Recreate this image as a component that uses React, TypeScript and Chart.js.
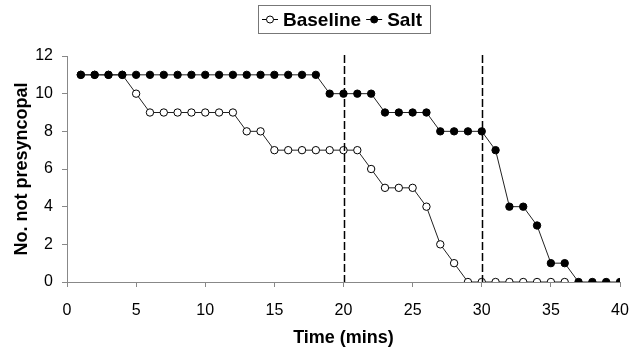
import React, { useEffect, useRef } from 'react';
import { Chart, registerables } from 'chart.js';

Chart.register(...registerables);

const baselineTimes = [1, 2, 3, 4, 5, 6, 7, 8, 9, 10, 11, 12, 13, 14, 15, 16, 17, 18, 19, 20, 21, 22, 23, 24, 25, 26, 27, 28, 29, 30, 31, 32, 33, 34, 35, 36];
const baselineValues = [11, 11, 11, 11, 10, 9, 9, 9, 9, 9, 9, 9, 8, 8, 7, 7, 7, 7, 7, 7, 7, 6, 5, 5, 5, 4, 2, 1, 0, 0, 0, 0, 0, 0, 0, 0];
const saltTimes = [1, 2, 3, 4, 5, 6, 7, 8, 9, 10, 11, 12, 13, 14, 15, 16, 17, 18, 19, 20, 21, 22, 23, 24, 25, 26, 27, 28, 29, 30, 31, 32, 33, 34, 35, 36, 37, 38, 39, 40];
const saltValues = [11, 11, 11, 11, 11, 11, 11, 11, 11, 11, 11, 11, 11, 11, 11, 11, 11, 11, 10, 10, 10, 10, 9, 9, 9, 9, 8, 8, 8, 8, 7, 4, 4, 3, 1, 1, 0, 0, 0, 0];
const markerTimes = [20, 30];
const seriesNames = ['Baseline', 'Salt'];
const xTitle = 'Time (mins)';
const yTitle = 'No. not presyncopal';

const FONT = '"Liberation Sans", Arial, Helvetica, sans-serif';

const vLinesPlugin = {
  id: 'vLines',
  afterDatasetsDraw(chart: any) {
    const { ctx, chartArea, scales } = chart;
    ctx.save();
    ctx.strokeStyle = '#000';
    ctx.lineWidth = 1.5;
    ctx.setLineDash([8, 3]);
    markerTimes.forEach((t) => {
      const x = Math.round(scales.x.getPixelForValue(t)) + 0.5;
      ctx.beginPath();
      ctx.moveTo(x, chartArea.top - 1);
      ctx.lineTo(x, chartArea.bottom);
      ctx.stroke();
    });
    ctx.restore();
  },
};

const legendPlugin = {
  id: 'customLegend',
  afterDraw(chart: any) {
    const { ctx } = chart;
    ctx.save();
    const fontSize = 19;
    ctx.font = `bold ${fontSize}px ${FONT}`;
    const markerW = 16;
    const gap = 5;
    const itemGap = 5;
    const widths = seriesNames.map((n) => ctx.measureText(n).width);
    const padL = 4;
    const padR = 8;
    const total = padL + padR + widths.reduce((a, w) => a + markerW + gap + w, 0) + itemGap;
    const boxTop = 5;
    const boxH = 28;
    let x = 258;
    ctx.strokeStyle = '#777';
    ctx.lineWidth = 1;
    ctx.strokeRect(x + 0.5, boxTop + 0.5, Math.round(total), boxH);
    const y = boxTop + boxH / 2 + 0.5;
    x += padL;
    seriesNames.forEach((name, i) => {
      ctx.strokeStyle = '#000';
      ctx.lineWidth = 1;
      ctx.beginPath();
      ctx.moveTo(x, y);
      ctx.lineTo(x + markerW, y);
      ctx.stroke();
      ctx.beginPath();
      ctx.arc(x + markerW / 2, y, 3.5, 0, Math.PI * 2);
      ctx.fillStyle = i === 0 ? '#fff' : '#000';
      ctx.fill();
      ctx.stroke();
      x += markerW + gap;
      ctx.fillStyle = '#000';
      ctx.textBaseline = 'middle';
      ctx.textAlign = 'left';
      ctx.fillText(name, x, y + 1);
      x += widths[i] + itemGap;
    });
    ctx.restore();
  },
};

export default function App() {
  const canvasRef = useRef<HTMLCanvasElement | null>(null);

  useEffect(() => {
    const canvas = canvasRef.current;
    if (!canvas) return;
    const chart = new Chart(canvas, {
      type: 'scatter',
      data: {
        datasets: [
          {
            label: seriesNames[0],
            data: baselineTimes.map((t, i) => ({ x: t, y: baselineValues[i] })),
            showLine: true,
            borderColor: '#222',
            borderWidth: 1,
            pointRadius: 3.7,
            pointBackgroundColor: '#fff',
            pointBorderColor: '#000',
            pointBorderWidth: 1,
            order: 1,
          },
          {
            label: seriesNames[1],
            data: saltTimes.map((t, i) => ({ x: t, y: saltValues[i] })),
            showLine: true,
            borderColor: '#222',
            borderWidth: 1,
            pointRadius: 3.7,
            pointBackgroundColor: '#000',
            pointBorderColor: '#000',
            pointBorderWidth: 1,
            order: 0,
          },
        ],
      },
      options: {
        animation: false,
        responsive: false,
        devicePixelRatio: 1,
        layout: { padding: { top: 56, right: 11, left: 0, bottom: 0 } },
        plugins: {
          legend: { display: false },
          tooltip: { enabled: false },
        },
        scales: {
          x: {
            type: 'linear',
            min: 0,
            max: 40,
            afterFit: (s: any) => {
              s.height = 71;
              s.paddingRight = 0;
              s.paddingLeft = 0;
            },
            ticks: {
              stepSize: 5,
              color: '#000',
              padding: 14,
              font: { family: FONT, size: 16 },
            },
            grid: {
              display: true,
              drawOnChartArea: false,
              drawTicks: true,
              tickLength: 5,
              color: '#888',
            },
            border: { display: true, color: '#888', width: 1 },
            title: {
              display: true,
              text: xTitle,
              color: '#000',
              font: { family: FONT, size: 18, weight: 'bold' },
              padding: { top: 0, bottom: 4 },
            },
          },
          y: {
            type: 'linear',
            min: 0,
            max: 12,
            afterFit: (s: any) => {
              s.width = 67;
              s.paddingTop = 0;
              s.paddingBottom = 0;
            },
            ticks: {
              stepSize: 2,
              color: '#000',
              padding: 9,
              font: { family: FONT, size: 16 },
            },
            grid: {
              display: true,
              drawOnChartArea: false,
              drawTicks: true,
              tickLength: 5,
              color: '#888',
            },
            border: { display: true, color: '#888', width: 1 },
            title: {
              display: true,
              text: yTitle,
              color: '#000',
              font: { family: FONT, size: 18, weight: 'bold' },
              padding: { top: 11, bottom: 0 },
            },
          },
        },
      },
      plugins: [vLinesPlugin, legendPlugin],
    });
    return () => chart.destroy();
  }, []);

  return (
    <div style={{ position: 'fixed', left: 0, top: 0, width: 631, height: 353, background: '#fff' }}>
      <canvas ref={canvasRef} width={631} height={353} style={{ width: 631, height: 353, display: 'block' }} />
    </div>
  );
}
